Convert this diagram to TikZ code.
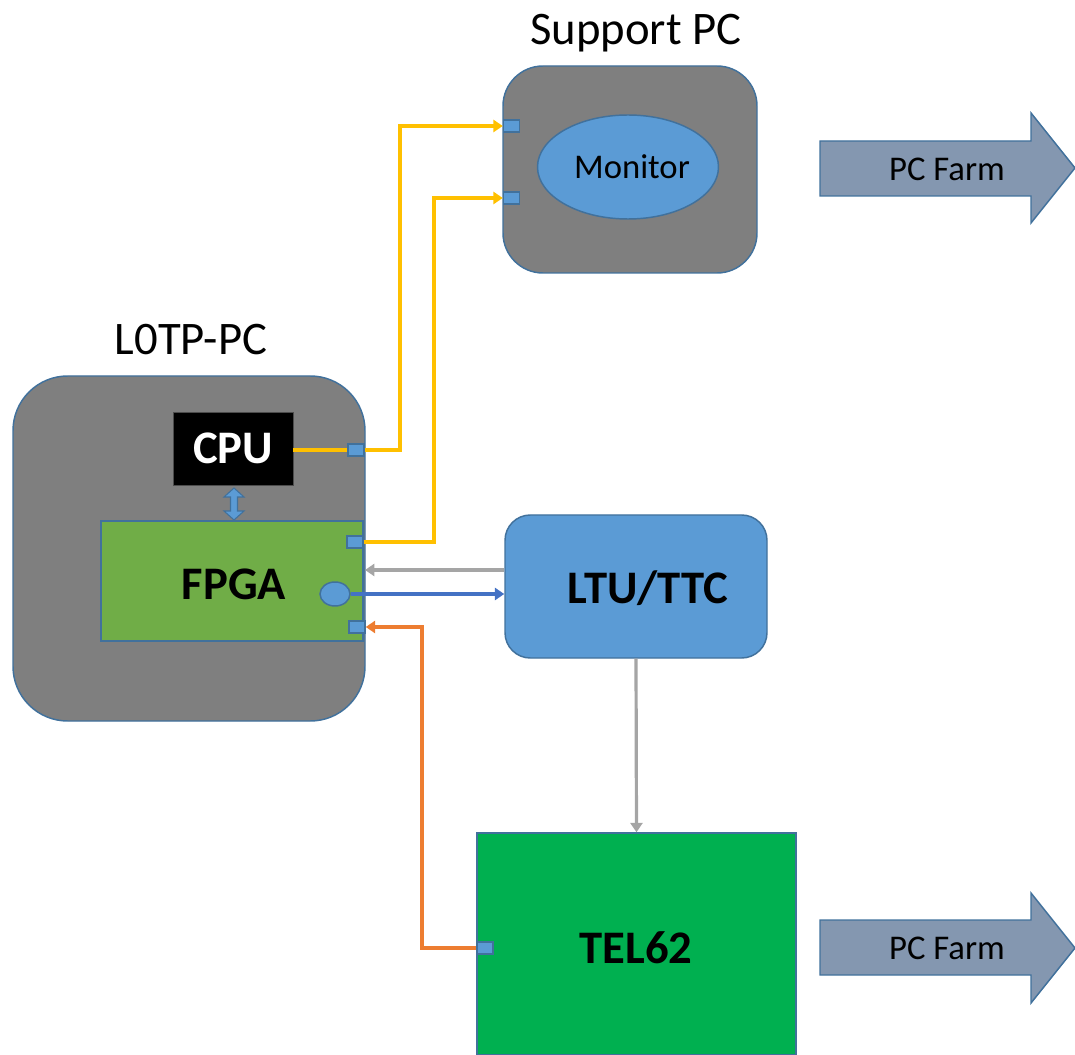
\documentclass[tikz,border=0pt]{standalone}
\usepackage{fontspec}
\setmainfont{Carlito}
\usetikzlibrary{arrows.meta,shapes.geometric}
\definecolor{bord}{HTML}{41719C}
\definecolor{boxgray}{HTML}{7F7F7F}
\definecolor{mblue}{HTML}{5B9BD5}
\definecolor{fgreen}{HTML}{70AD47}
\definecolor{tgreen}{HTML}{00B050}
\definecolor{farm}{HTML}{8497B0}
\definecolor{yel}{HTML}{FFC000}
\definecolor{ora}{HTML}{ED7D31}
\definecolor{lblue}{HTML}{4472C4}
\definecolor{lgray}{HTML}{A5A5A5}
\tikzset{
  box/.style={draw=bord, line width=1.1pt, inner sep=0pt},
  port/.style={box, fill=mblue, minimum width=12pt, minimum height=9pt},
  big/.style={font=\fontsize{35}{40}\selectfont},
  bigb/.style={font=\fontsize{35}{40}\selectfont\bfseries},
  mid/.style={font=\fontsize{26}{30}\selectfont},
  wire/.style={line width=2.4pt, -{Triangle[width=9pt,length=7pt]}},
  plain/.style={line width=2.4pt},
}
\begin{document}
\begin{tikzpicture}[x=0.75pt,y=-0.75pt]
\useasboundingbox (0,0) rectangle (1075,1055);
% Support PC
\node[box, fill=boxgray, rounded corners=30pt, minimum width=190.5pt, minimum height=155.25pt] (spc) at (630,169.5) {};
\node[big] (spct) at (636,33) {Support PC};
\node[box, fill=mblue, ellipse, minimum width=135.75pt, minimum height=78pt] (mon) at (628,167) {};
\node[mid] (mont) at (632,167) {Monitor};
\node[port] (sp1) at (511.5,126) {};
\node[port] (sp2) at (511.5,198) {};
% PC Farm arrows
\draw[draw=bord, line width=1.1pt, fill=farm] (820,141) -- (1031,141) -- (1031,113) -- (1075,168) -- (1031,223) -- (1031,196) -- (820,196) -- cycle;
\node[mid] (farm1) at (947,169) {PC Farm};
\draw[draw=bord, line width=1.1pt, fill=farm] (820,920) -- (1031,920) -- (1031,893) -- (1075,948) -- (1031,1003) -- (1031,975) -- (820,975) -- cycle;
\node[mid] (farm2) at (947,948) {PC Farm};
% L0TP-PC
\node[box, fill=boxgray, rounded corners=41pt, minimum width=264pt, minimum height=258.75pt] (l0) at (189,548.5) {};
\node[big] (l0t) at (191,340) {L0TP-PC};
\node[fill=black, draw=black!70, inner sep=0pt, minimum width=90pt, minimum height=54.75pt, text=white, bigb] (cpu) at (233,448.5) {CPU};
\node[box, fill=fgreen, minimum width=196.5pt, minimum height=90pt] (fpga) at (232,581) {};
\node[bigb] (fpgat) at (234,584) {FPGA};
\node[port] (cp) at (356,450) {};
\node[port] (fp1) at (355,542) {};
\node[port] (fp2) at (357,627) {};
\node[box, fill=mblue, ellipse, minimum width=22.5pt, minimum height=18pt] (circ) at (335,594) {};
% double arrow CPU-FPGA
\draw[draw=bord, line width=0.8pt, fill=mblue] (234,488) -- (244,497) -- (237.5,497) -- (237.5,511) -- (244,511) -- (234,520) -- (224,511) -- (230.5,511) -- (230.5,497) -- (224,497) -- cycle;
% LTU/TTC
\node[box, fill=mblue, rounded corners=19pt, minimum width=196.5pt, minimum height=107.25pt] (ltu) at (636,586.5) {};
\node[bigb] (ltut) at (648,588) {LTU/TTC};
% TEL62
\node[box, fill=tgreen, minimum width=239.25pt, minimum height=166.5pt] (tel) at (636.5,944) {};
\node[bigb] (telt) at (636,948) {TEL62};
\node[port] (tp) at (485,948) {};
% connectors
\draw[plain, yel] (cpu.east |- cp.west) -- (cp.west);
\draw[wire, yel] (cp.east) -- (400,450) |- (sp1.west);
\draw[wire, yel] (fp1.east) -- (434,542) |- (sp2.west);
\draw[wire, lgray] (ltu.west |- 0,570) -- (365,570);
\draw[wire, lblue] (circ.east) -- (ltu.west |- circ.east);
\draw[wire, lgray] (ltu.south) -- (tel.north);
\draw[wire, ora] (tp.west) -- (422,948) |- (fp2.east);
\end{tikzpicture}
\end{document}
